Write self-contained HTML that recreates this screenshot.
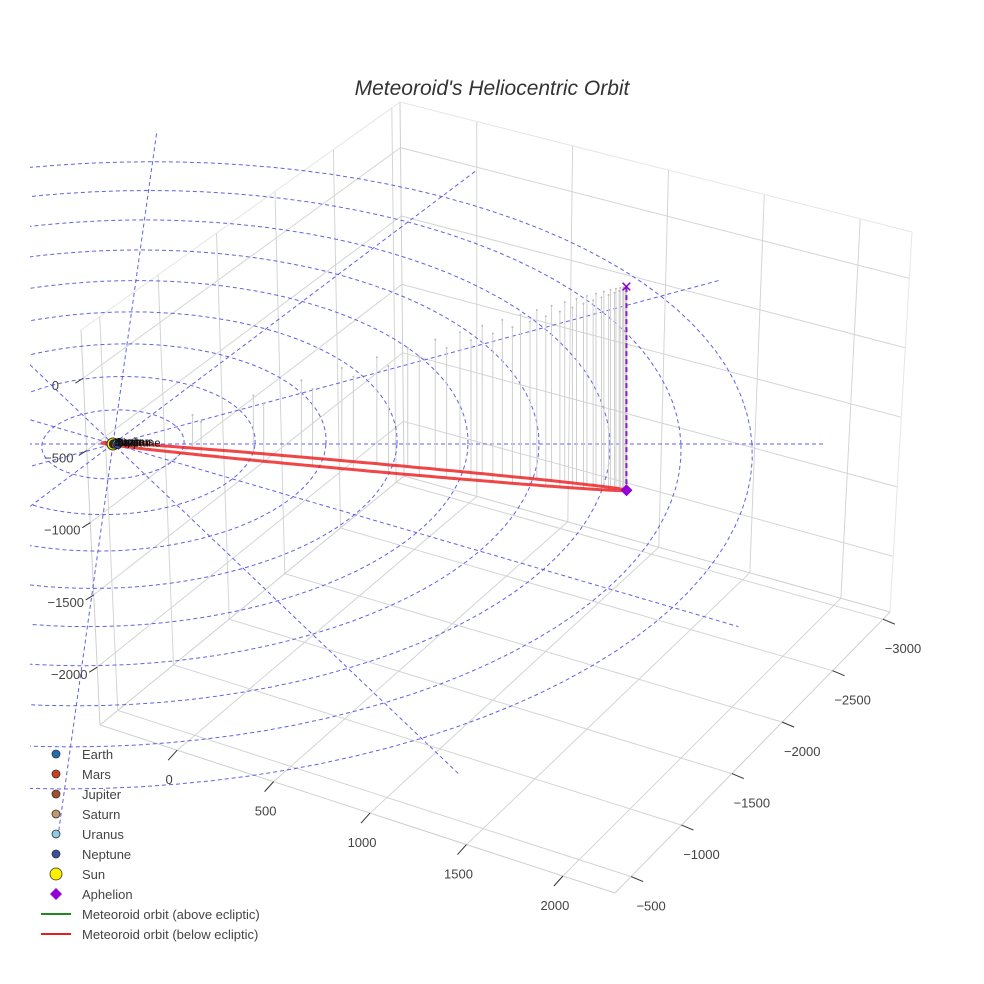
<!DOCTYPE html>
<html><head><meta charset="utf-8">
<style>
html,body{margin:0;padding:0;background:#fff;}
svg{display:block;font-family:"Liberation Sans",sans-serif;}
</style></head>
<body>
<svg id="chart" width="984" height="984" viewBox="0 0 984 984">
<defs><clipPath id="sceneClip"><rect x="30" y="0" width="954" height="984"/></clipPath></defs>
<rect width="984" height="984" fill="#fff"/>
<text x="492" y="95" text-anchor="middle" font-size="21" font-style="italic" fill="#333">Meteoroid's Heliocentric Orbit</text>
<g id="box"></g>
<g id="ecl" clip-path="url(#sceneClip)"></g>
<g id="orbit"></g>
<g id="legend"></g>
</svg>
<script>
// ---- axis data ----
const xTicks=[0,500,1000,1500,2000];
const yTicks=[-500,-1000,-1500,-2000,-2500,-3000];
const zTicks=[0,-500,-1000,-1500,-2000];
const xRange=[-400,2270];
const yRange=[-340,-3070];
const zRange=[-2400,333];
// ---- ecliptic reference data ----
const ringRadii=[1,2,3,4,5,6,7,8,9];
const radialAngles=[0,30,60,90,120,150];
const radialLength=[10];
// ---- meteoroid orbit data ----
const aphelionPos=[7.29,4.79,-6.2];
const perihelionFrac=[0.02];
const minorSemiAxis=[0.16];
const dropSamples=[48];
// ---- planets ----
const planetNames=["Earth","Mars","Jupiter","Saturn","Uranus","Neptune"];
const planetColors=["#1f6fb0","#c8401a","#a0522d","#c09a6b","#8ecae6","#3a4fa0"];
const planetU=[0.005,0.008,0.02,0.035,0.05,0.07];
const planetV=[0.003,-0.004,0.01,-0.01,0.015,-0.015];

const NS="http://www.w3.org/2000/svg";
function mk(tag,attrs,parent){const e=document.createElementNS(NS,tag);for(const k in attrs)e.setAttribute(k,attrs[k]);parent.appendChild(e);return e;}

const C={ '000':[100,725],'100':[615,893],'010':[404,476],'110':[890,612],
          '001':[81,330],'101':[585,488],'011':[400,102],'111':[912,232]};
function boxP(a,b,c){
  let x=0,y=0;
  for(const i of [0,1])for(const j of [0,1])for(const k of [0,1]){
    const w=(i?a:1-a)*(j?b:1-b)*(k?c:1-c);const p=C[''+i+j+k];x+=w*p[0];y+=w*p[1];}
  return [x,y];
}
function ax(x){return (x-xRange[0])/(xRange[1]-xRange[0]);}
function ay(y){return (y-yRange[0])/(yRange[1]-yRange[0]);}
function az(z){return (z-zRange[0])/(zRange[1]-zRange[0]);}

const box=document.getElementById('box');
function bline(p,q,col,name){
  const l=mk('line',{x1:p[0].toFixed(1),y1:p[1].toFixed(1),x2:q[0].toFixed(1),y2:q[1].toFixed(1),stroke:col,'stroke-width':1},box);
  
  
}
const G="#d4d4d4";
xTicks.forEach(x=>bline(boxP(ax(x),1,0),boxP(ax(x),1,1),G,'back-wall-gridline-x'));
zTicks.forEach(z=>bline(boxP(0,1,az(z)),boxP(1,1,az(z)),G,'back-wall-gridline-z'));
yTicks.forEach(y=>bline(boxP(0,ay(y),0),boxP(0,ay(y),1),G,'left-wall-gridline-y'));
zTicks.forEach(z=>bline(boxP(0,0,az(z)),boxP(0,1,az(z)),G,'left-wall-gridline-z'));
xTicks.forEach(x=>bline(boxP(ax(x),0,0),boxP(ax(x),1,0),G,'floor-gridline-x'));
yTicks.forEach(y=>bline(boxP(0,ay(y),0),boxP(1,ay(y),0),G,'floor-gridline-y'));
const E1="#e6e6e6",E2="#cfcfcf";
bline(boxP(0,0,1),boxP(0,1,1),E1,'box-edge');
bline(boxP(0,1,1),boxP(1,1,1),E1,'box-edge');
bline(boxP(1,1,1),boxP(1,1,0),E1,'box-edge');
bline(boxP(0,0,0),boxP(0,0,1),E2,'box-edge');
bline(boxP(0,1,0),boxP(0,1,1),E2,'box-edge');
bline(boxP(0,0,0),boxP(1,0,0),E2,'x-axis-line');
bline(boxP(1,0,0),boxP(1,1,0),E2,'y-axis-line');
bline(boxP(0,0,0),boxP(0,1,0),E2,'box-edge');
bline(boxP(0,1,0),boxP(1,1,0),E2,'box-edge');

function tickLabel(p,dx,dy,lx,ly,txt,name){
  const t=mk('line',{x1:p[0],y1:p[1],x2:p[0]+dx,y2:p[1]+dy,stroke:"#333",'stroke-width':1},box);
  
  
  const s=mk('text',{x:p[0]+lx,y:p[1]+ly,'text-anchor':'middle','font-size':13,fill:'#444'},box);
  s.textContent=txt.replace('-','\u2212');
  
  
}
xTicks.forEach(x=>tickLabel(boxP(ax(x),0,0),-9,10,-8,34,String(x),'x-axis'));
yTicks.forEach(y=>tickLabel(boxP(1,ay(y),0),12,5,20,34,String(y),'y-axis'));
zTicks.forEach(z=>tickLabel(boxP(0,0,az(z)),-8,5,-28,12,String(z),'z-axis'));

function eP(u,v,h){const w=1+0.0111*v;return [113+(71*u+4.84*v)/w,444+(-34.5*v-34.5*h)/w];}
const ecl=document.getElementById('ecl');
const BL="rgba(70,70,225,0.85)";
ringRadii.forEach(r=>{
  const pts=[];for(let d=0;d<=360;d+=3){const t=d*Math.PI/180;const p=eP(r*Math.cos(t),r*Math.sin(t),0);pts.push(p[0].toFixed(1)+','+p[1].toFixed(1));}
  const e=mk('polyline',{points:pts.join(' '),fill:'none',stroke:BL,'stroke-width':1,'stroke-dasharray':'4,3'},ecl);
  
  
});
radialAngles.forEach(a=>{
  const t=a*Math.PI/180,L=radialLength[0];
  const p=eP(L*Math.cos(t),L*Math.sin(t),0),q=eP(-L*Math.cos(t),-L*Math.sin(t),0);
  const e=mk('line',{x1:p[0],y1:p[1],x2:q[0],y2:q[1],stroke:BL,'stroke-width':1,'stroke-dasharray':'4,3'},ecl);
  
  
});

const og=document.getElementById('orbit');
const A=aphelionPos,q=perihelionFrac[0],b=minorSemiAxis[0];
const Alen=Math.hypot(A[0],A[1]);const Pu=-A[1]/Alen,Pv=A[0]/Alen;
function orbPos(E){const f=(1-q)/2-(1+q)/2*Math.cos(E);return [A[0]*f+Pu*b*Math.sin(E),A[1]*f+Pv*b*Math.sin(E),A[2]*f];}
const ecc=(1-q)/(1+q);
const N=dropSamples[0];
for(let k=1;k<N;k++){
  const M=2*Math.PI*k/N;let E=Math.PI;for(let i=0;i<60;i++)E=E-(E-ecc*Math.sin(E)-M)/(1-ecc*Math.cos(E));
  const o=orbPos(E);const top=eP(o[0],o[1],0),bot=eP(o[0],o[1],o[2]);
  const l=mk('line',{x1:top[0],y1:top[1],x2:bot[0],y2:bot[1],stroke:'#cfcfcf','stroke-width':1},og);
  
  
  const c=mk('circle',{cx:top[0],cy:top[1],r:1,fill:'#bbb'},og);
  
  
}
const opts=[];for(let i=0;i<=240;i++){const p=orbPos(2*Math.PI*i/240);const s=eP(p[0],p[1],p[2]);opts.push(s[0].toFixed(1)+','+s[1].toFixed(1));}
const orb=mk('polyline',{points:opts.join(' '),fill:'none',stroke:'rgba(235,25,25,0.8)','stroke-width':3,'stroke-linejoin':'round'},og);


const apTop=eP(A[0],A[1],0),apBot=eP(A[0],A[1],A[2]);
const apl=mk('line',{x1:apTop[0],y1:apTop[1],x2:apBot[0],y2:apBot[1],stroke:'#8a1fc0','stroke-width':2,'stroke-dasharray':'5,3'},og);


const apx=mk('text',{x:apTop[0],y:apTop[1]+5,'text-anchor':'middle','font-size':15,fill:'#9400d3'},og);
apx.textContent='\u2715';


const apd=mk('path',{d:`M${apBot[0]} ${apBot[1]-6}l6 6l-6 6l-6 -6z`,fill:'#9400d3'},og);


const sp=eP(0,0,0);
const sun=mk('circle',{cx:sp[0],cy:sp[1],r:6,fill:'#ffee00',stroke:'#333','stroke-width':1},og);


planetNames.forEach((n,i)=>{
  const p=eP(planetU[i],planetV[i],0);
  const c=mk('circle',{cx:p[0],cy:p[1],r:4,fill:planetColors[i],stroke:'#222','stroke-width':1},og);
  
  
});
planetNames.forEach((n,i)=>{
  const p=eP(planetU[i],planetV[i],0);
  const t=mk('text',{x:p[0]+1,y:p[1]+2,'font-size':11,fill:'#111'},og);
  t.textContent=n;
  
  
});

const lg=document.getElementById('legend');
const legNames=["Earth","Mars","Jupiter","Saturn","Uranus","Neptune","Sun","Aphelion","Meteoroid orbit (above ecliptic)","Meteoroid orbit (below ecliptic)"];
const legKinds=["c","c","c","c","c","c","sun","d","l","l"];
const legColors=planetColors.concat(["#ffee00","#9400d3","#1e8a1e","#e02020"]);
legNames.forEach((n,i)=>{
  const y=754+i*20;
  const g=mk('g',{},lg);
  
  
  const k=legKinds[i];
  if(k==='c')mk('circle',{cx:56,cy:y,r:4,fill:legColors[i],stroke:'#333','stroke-width':0.8},g);
  else if(k==='sun')mk('circle',{cx:56,cy:y,r:6,fill:legColors[i],stroke:'#333','stroke-width':0.8},g);
  else if(k==='d')mk('path',{d:`M56 ${y-6}l6 6l-6 6l-6 -6z`,fill:legColors[i]},g);
  else mk('line',{x1:41,y1:y,x2:71,y2:y,stroke:legColors[i],'stroke-width':2},g);
  const t=mk('text',{x:82,y:y+5,'font-size':13,fill:'#444'},g);
  t.textContent=n;
});
</script>
</body></html>
